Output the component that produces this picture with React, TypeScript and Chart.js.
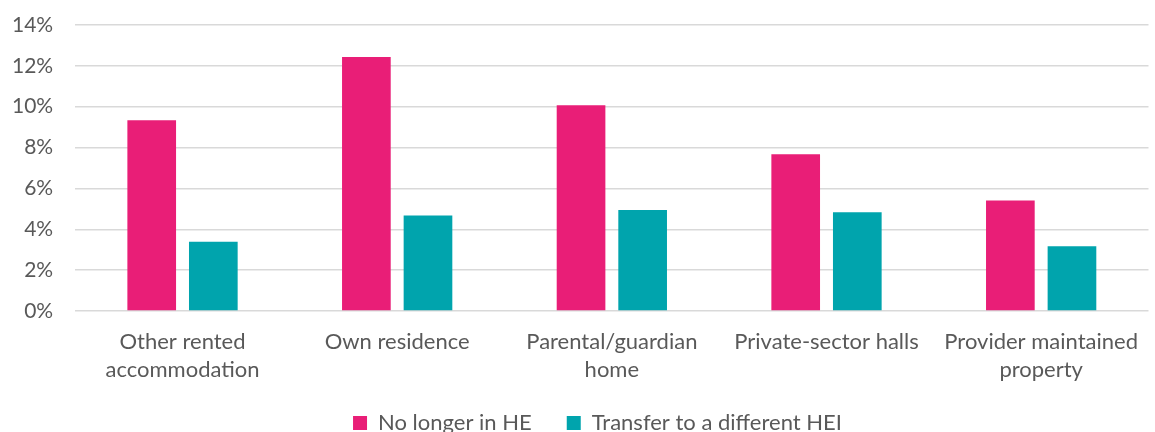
import React, { useEffect, useRef } from "react";
import { Chart, registerables } from "chart.js";

Chart.register(...registerables);

const categories: string[][] = [
  ["Other rented", "accommodation"],
  ["Own residence"],
  ["Parental/guardian", "home"],
  ["Private-sector halls"],
  ["Provider maintained", "property"],
];
const noLongerInHE = [9.34, 12.43, 10.07, 7.67, 5.41];
const transferHEI = [3.39, 4.67, 4.94, 4.84, 3.17];
const seriesNames = ["No longer in HE", "Transfer to a different HEI"];

const layoutTweak = {
  id: "layoutTweak",
  afterLayout(chart: any) {
    if (chart.legend) chart.legend.left += 28;
    if (chart.scales.x) chart.scales.x.bottom += 14;
  },
};

export default function App() {
  const ref = useRef<HTMLCanvasElement>(null);
  useEffect(() => {
    document.body.style.margin = "0";
    const font = "Lato, 'Open Sans', sans-serif";
    const yPad = 22;
    const chart = new Chart(ref.current!, {
      type: "bar",
      data: {
        labels: categories,
        datasets: [
          {
            label: seriesNames[0],
            data: noLongerInHE,
            backgroundColor: "#E91E77",
            barPercentage: 0.79,
            categoryPercentage: 0.574,
          },
          {
            label: seriesNames[1],
            data: transferHEI,
            backgroundColor: "#00A4AD",
            barPercentage: 0.79,
            categoryPercentage: 0.574,
          },
        ],
      },
      plugins: [layoutTweak],
      options: {
        animation: false,
        responsive: false,
        maintainAspectRatio: false,
        layout: { padding: { left: 12, right: 0, top: 25, bottom: -12 } },
        plugins: {
          tooltip: { enabled: false },
          legend: {
            position: "bottom",
            labels: {
              color: "#595959",
              font: { family: font, size: 22 },
              boxWidth: 14,
              boxHeight: 14,
              padding: 35,
            },
          },
        },
        scales: {
          x: {
            grid: { display: false, drawTicks: false },
            border: { display: false },
            ticks: {
              color: "#595959",
              font: { family: font, size: 22, lineHeight: 1.27 },
              maxRotation: 0,
              padding: 17,
            },
            afterFit: (scale: any) => {
              scale.height = 66;
            },
          },
          y: {
            min: 0,
            max: 14,
            grid: { color: "#D9D9D9", lineWidth: 1.5, drawTicks: false },
            border: { display: false },
            ticks: {
              stepSize: 2,
              color: "#595959",
              font: { family: font, size: 21, lineHeight: 1.2 },
              padding: yPad,
              callback: (v: any) => v + "%",
            },
            afterFit: (scale: any) => {
              scale.width -= yPad;
              scale.paddingTop = 0;
              scale.paddingBottom = 0;
            },
          },
        },
      },
    });
    return () => chart.destroy();
  }, []);
  return (
    <div style={{ width: 1155, height: 432 }}>
      <canvas ref={ref} width={1155} height={432} />
    </div>
  );
}
